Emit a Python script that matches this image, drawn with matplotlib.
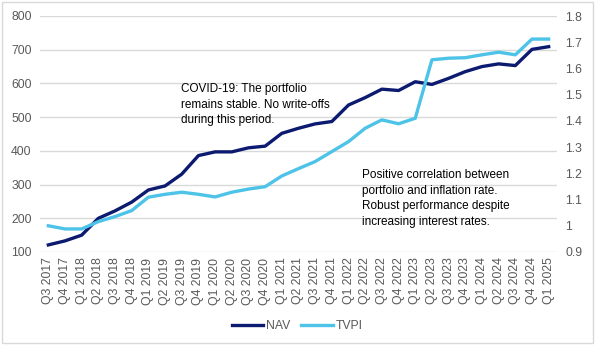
import numpy as np
import matplotlib.pyplot as plt
from matplotlib.patches import Rectangle
from matplotlib.ticker import FuncFormatter

plt.rcParams['font.family'] = ['Liberation Sans', 'DejaVu Sans']

quarters = ['Q3 2017', 'Q4 2017', 'Q1 2018', 'Q2 2018', 'Q3 2018', 'Q4 2018',
            'Q1 2019', 'Q2 2019', 'Q3 2019', 'Q4 2019', 'Q1 2020', 'Q2 2020',
            'Q3 2020', 'Q4 2020', 'Q1 2021', 'Q2 2021', 'Q3 2021', 'Q4 2021',
            'Q1 2022', 'Q2 2022', 'Q3 2022', 'Q4 2022', 'Q1 2023', 'Q2 2023',
            'Q3 2023', 'Q4 2023', 'Q1 2024', 'Q2 2024', 'Q3 2024', 'Q4 2024',
            'Q1 2025']
nav = [121, 133, 150, 200, 222, 248, 284, 296, 331, 386, 397, 397, 409, 414,
       452, 467, 480, 487, 536, 558, 583, 579, 605, 597, 615, 635, 650, 658,
       653, 701, 709]
tvpi = [1.0, 0.988, 0.988, 1.016, 1.035, 1.058, 1.109, 1.12, 1.128, 1.12,
        1.11, 1.128, 1.14, 1.149, 1.19, 1.218, 1.245, 1.283, 1.321, 1.372,
        1.404, 1.389, 1.41, 1.633, 1.639, 1.641, 1.652, 1.662, 1.652, 1.712,
        1.712]

nav_color = '#0c1a70'
tvpi_color = '#4ec3e8'
grey = '#595959'

fig = plt.figure(figsize=(5.95, 3.49), dpi=100)
ax = fig.add_axes([40/595, 1 - 252/349, 517/595, 236/349])
ax2 = ax.twinx()

x = np.arange(len(quarters))
l1, = ax.plot(x, nav, color=nav_color, lw=2.4, label='NAV', zorder=3)
l2, = ax2.plot(x, tvpi, color=tvpi_color, lw=2.4, label='TVPI', zorder=3)

ax.set_xlim(-0.5, len(quarters) - 0.5)
ax.set_ylim(100, 800)
ax.set_yticks(range(100, 801, 100))
ax2.set_ylim(0.9, 1.8)
ax2.set_yticks(np.arange(0.9, 1.81, 0.1))
ax2.yaxis.set_major_formatter(FuncFormatter(lambda v, p: ('%.1f' % v).rstrip('0').rstrip('.')))

ax.set_xticks(x)
ax.set_xticklabels(quarters, rotation=90)
ax.grid(axis='y', color='#d9d9d9', lw=1)
ax.set_axisbelow(True)
for a in (ax, ax2):
    for s in a.spines.values():
        s.set_visible(False)
    a.tick_params(length=0, labelsize=8.8, colors=grey)
ax.tick_params(axis='x', pad=4)
ax.tick_params(axis='y', pad=6)
ax2.tick_params(axis='y', pad=6)

ax.text(181/595, 1 - 83/349, 'COVID-19: The portfolio\nremains stable. No write-offs\nduring this period.',
        transform=fig.transFigure, fontsize=8.5, va='top', ha='left', linespacing=1.4)
ax.text(362/595, 1 - 169/349, 'Positive correlation between\nportfolio and inflation rate.\nRobust performance despite\nincreasing interest rates.',
        transform=fig.transFigure, fontsize=8.5, va='top', ha='left', linespacing=1.4)

fig.legend(handles=[l1, l2], loc='center', bbox_to_anchor=(297/595, 1 - 326/349),
           ncol=2, frameon=False, fontsize=8.8, handlelength=2.6, handletextpad=0.2,
           columnspacing=0.9, labelcolor=grey)

fig.patches.append(Rectangle((2/595, 6/349), 591/595, 341/349, transform=fig.transFigure,
                             fill=False, ec='#d9d9d9', lw=1))

fig.savefig('out.png', dpi=100)
